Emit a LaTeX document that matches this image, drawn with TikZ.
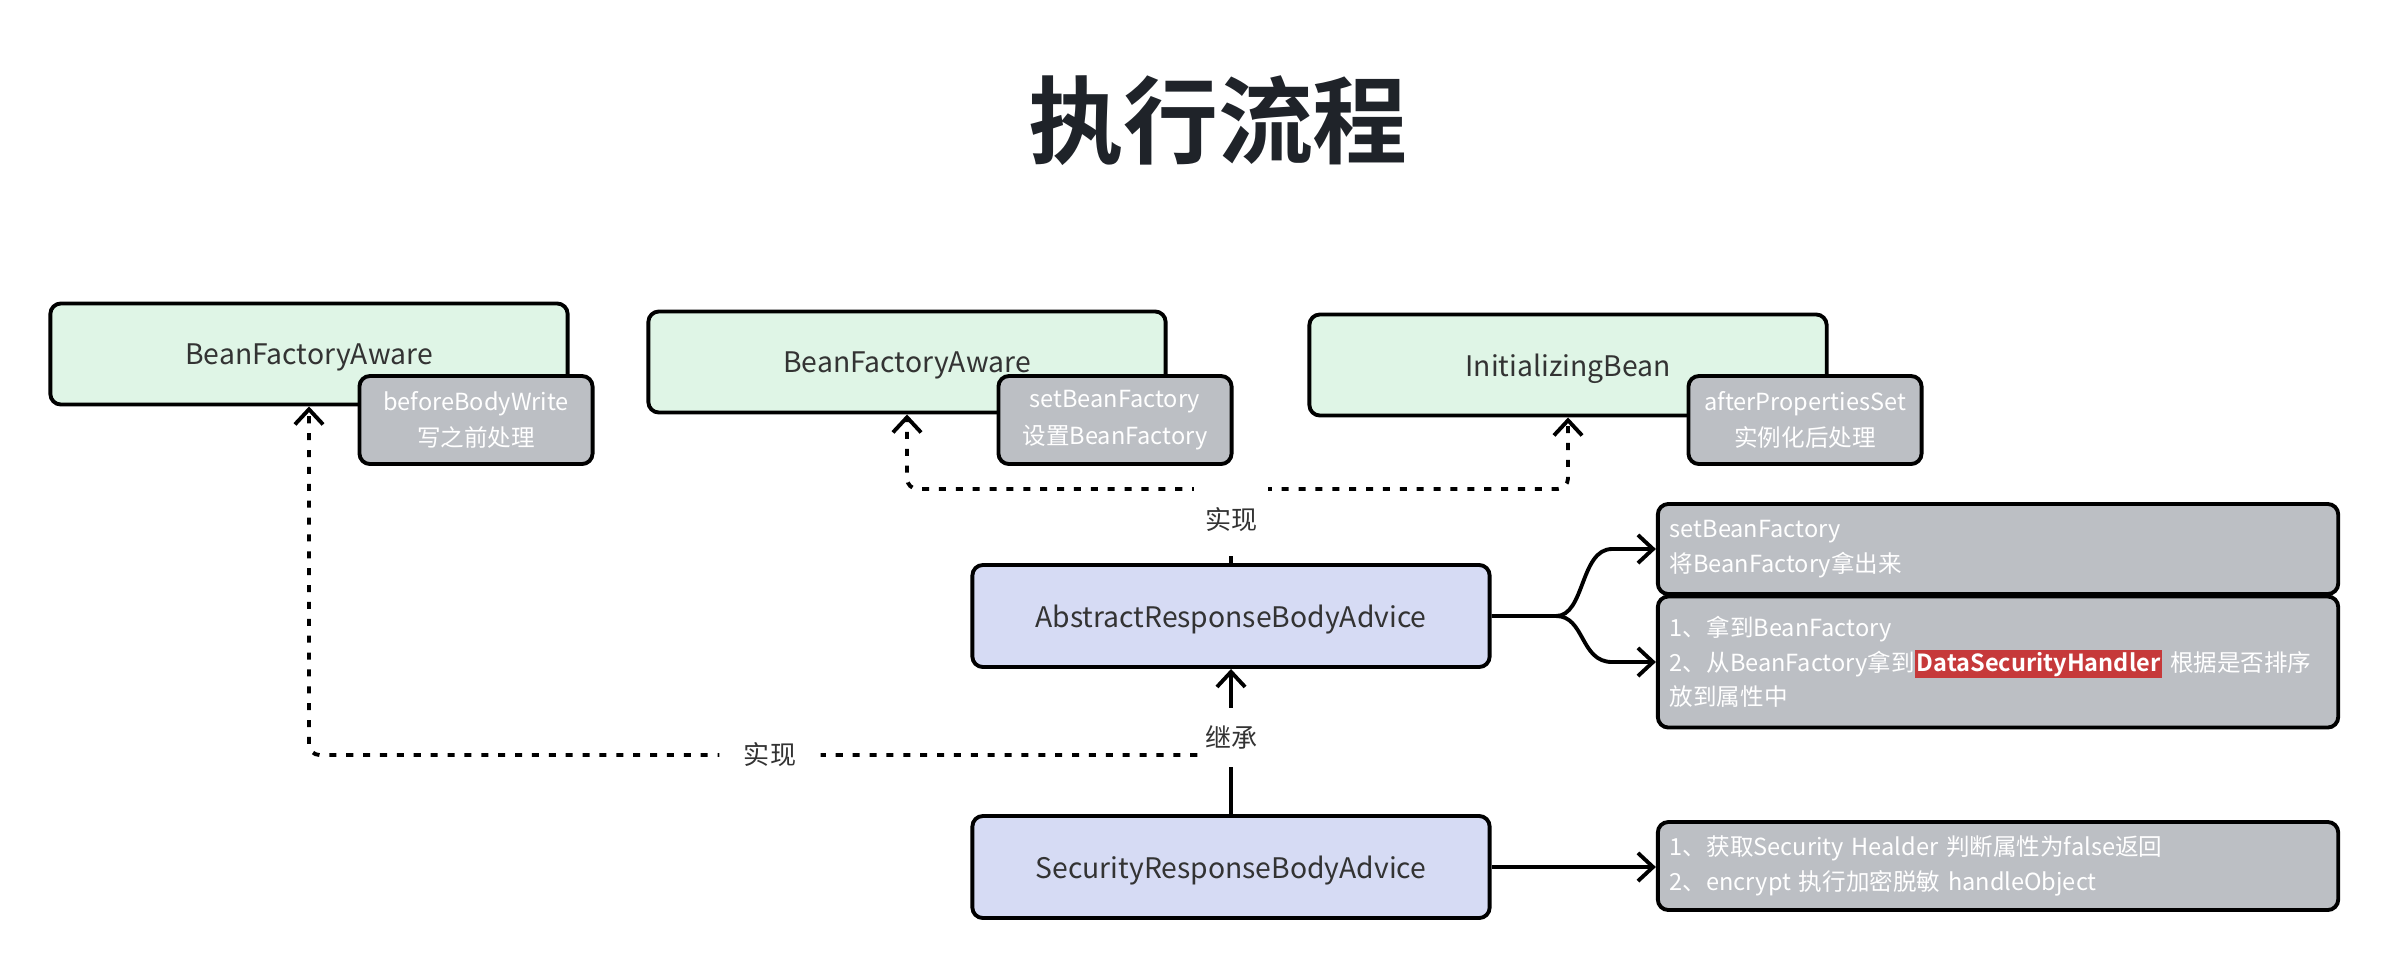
\documentclass[tikz,border=0pt]{standalone}
\usepackage{fontspec}
\setmainfont{Noto Sans CJK SC}[BoldFont={Noto Sans CJK SC Bold}]
\usetikzlibrary{arrows.meta}

\definecolor{ifacegreen}{HTML}{DFF5E6}
\definecolor{clsblue}{HTML}{D6DBF4}
\definecolor{methgray}{HTML}{BCBFC4}
\definecolor{hlred}{HTML}{C6393A}
\definecolor{titleink}{HTML}{1F2329}
\definecolor{textink}{HTML}{333333}

\begin{document}
\begin{tikzpicture}
		[x=0.01cm, y=-0.01cm, line width=1.1pt,
		>={Straight Barb[length=4.3pt,width=8pt]},
		iface/.style = {draw, rounded corners=3pt, fill=ifacegreen, text=textink,
			minimum width=5.17cm, minimum height=1.01cm, font=\fontsize{8.05}{10}\selectfont},
		cls/.style = {draw, rounded corners=3pt, fill=clsblue, text=textink,
			minimum width=5.17cm, minimum height=1.02cm, font=\fontsize{8.05}{10}\selectfont},
		meth/.style = {draw, rounded corners=3pt, fill=methgray, text=white, align=center,
			minimum width=2.33cm, minimum height=0.88cm, font=\fontsize{6.7}{10.3}\selectfont},
		note/.style = {draw, rounded corners=3pt, fill=methgray, text=white, align=left,
			text width=6.56cm, minimum width=6.8cm, inner xsep=0.12cm, font=\fontsize{6.7}{9.8}\selectfont},
		rel/.style = {fill=white, text=textink, font=\fontsize{7.4}{9}\selectfont},
		impl/.style = {->, dash pattern=on 2pt off 2.8pt, rounded corners=3pt}]
        \useasboundingbox (0,0) rectangle (2386,966);

        \node[font=\fontsize{27}{30}\bfseries, text=titleink] (title) at (1218,121) {执行流程};

        \node[iface, text depth=-1pt] (g1) at (309,354) {BeanFactoryAware};
        \node[meth] (m1) at (476,420) {beforeBodyWrite\\写之前处理};
        \node[iface, text depth=-1pt] (g2) at (907,362) {BeanFactoryAware};
        \node[meth] (m2) at (1115,420) {setBeanFactory\\设置BeanFactory};
        \node[iface, text depth=-1pt] (g3) at (1568,365) {InitializingBean};
        \node[meth] (m3) at (1805,420) {afterPropertiesSet\\实例化后处理};

        \node[cls, text depth=-1pt] (abs) at (1231,616) {AbstractResponseBodyAdvice};
        \node[cls, text depth=-1pt] (sec) at (1231,867) {SecurityResponseBodyAdvice};

        \node[note, minimum height=0.9cm] (nA) at (1998,549) {setBeanFactory\\将BeanFactory拿出来};
        \node[note, minimum height=1.31cm] (nB) at (1998,662) {1、拿到BeanFactory\\2、从BeanFactory拿到{\setlength{\fboxsep}{0.5pt}\colorbox{hlred}{\bfseries DataSecurityHandler}} 根据是否排序\\放到属性中};
        \node[note, minimum height=0.88cm] (nC) at (1998,866) {1、获取Security Healder 判断属性为false返回\\2、encrypt 执行加密脱敏 handleObject};

        \coordinate (top) at (1231,489);
        \coordinate (low) at (1231,755);
        \coordinate (fork) at (1556,616);

        \draw[impl] (abs.north) -- (top) -| (g2.south);
        \draw[impl] (top) -| (g3.south);
        \node[rel, inner xsep=3pt, inner ysep=6.5pt] at (1231,520) {实现};

        \draw[impl] (low) -| (g1.south) node[pos=0.25, rel, inner xsep=7pt] {实现};
        \draw[->] (sec.north) -- node[pos=0.53, rel, inner xsep=2pt, inner ysep=5pt] {继承} (abs.south);

        \draw[->] (abs.east) -- (fork) .. controls (1585,616) and (1580,549) .. (1612,549) -- (nA.west);
        \draw[->] (fork) .. controls (1585,616) and (1580,662) .. (1612,662) -- (nB.west);
        \draw[->] (sec.east) -- (sec.east -| nC.west);
	\end{tikzpicture}
\end{document}
